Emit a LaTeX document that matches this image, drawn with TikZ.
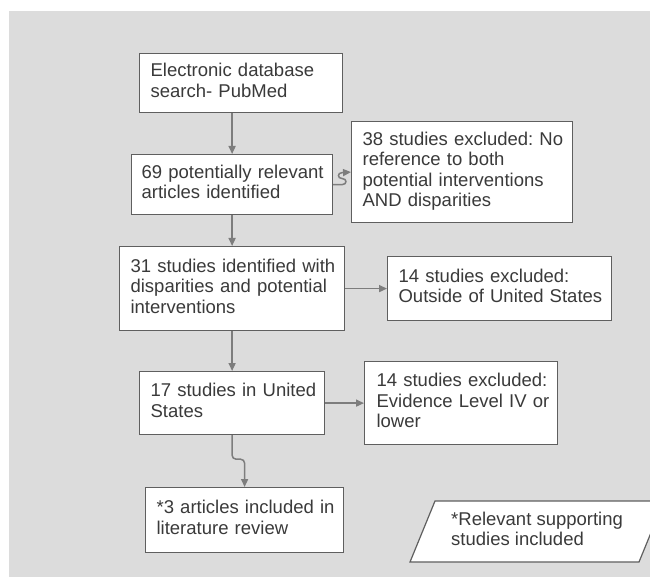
\documentclass[tikz,border=0pt]{standalone}
\usepackage{fontspec}
\setmainfont{Liberation Sans}
\usepackage{tikz}
\usetikzlibrary{arrows.meta}
\frenchspacing

\definecolor{bggray}{RGB}{220,220,220}
\definecolor{boxgray}{RGB}{95,95,95}
\definecolor{arrowgray}{RGB}{125,125,125}
\definecolor{txtgray}{RGB}{58,58,58}

% lines kept as set, never rewrapped
\newcommand{\boxtext}[1]{\begin{tabular}{@{}l@{}}#1\end{tabular}}

\tikzset{
  stage/.style={draw=boxgray, line width=1.2pt, fill=white, anchor=north west,
    align=left, inner xsep=11pt, inner ysep=0pt, text=txtgray,
    font=\fontsize{18.5}{20.5}\selectfont},
  flow/.style={draw=arrowgray, line width=1.5pt, -{Triangle[length=8pt,width=7pt]}},
}

\begin{document}
\begin{tikzpicture}[x=1pt,y=-1pt]
\useasboundingbox (0,0) rectangle (650,577);
\fill[bggray] (9,11) rectangle (650,577);

% Main column
\node[stage, text width=181pt, minimum height=59pt] (search) at (139,53)
  {\boxtext{Electronic database\\search- PubMed}};
\node[stage, text width=181pt, inner xsep=10pt, minimum height=60pt] (found) at (131,154)
  {\boxtext{69 potentially relevant\\articles identified}};
\node[stage, text width=203pt, minimum height=84pt] (identified) at (119,246)
  {\boxtext{31 studies identified with\\disparities and potential\\interventions}};
\node[stage, text width=163pt, minimum height=63pt] (usa) at (139,371)
  {\boxtext{17 studies in United\\States}};
\node[stage, text width=176pt, minimum height=65pt] (review) at (145,487)
  {\boxtext{*3 articles included in\\literature review}};

% Exclusions
\node[stage, text width=199pt, minimum height=101pt] (exclref) at (351,121)
  {\boxtext{38 studies excluded: No\\reference to both\\potential interventions\\AND disparities}};
\node[stage, text width=202pt, minimum height=64pt] (exclus) at (387,256)
  {\boxtext{14 studies excluded:\\Outside of United States}};
\node[stage, text width=169pt, inner xsep=12pt, minimum height=83pt] (excllevel) at (364,361)
  {\boxtext{14 studies excluded:\\Evidence Level IV or\\lower}};

% Supporting studies
\draw[boxgray, line width=1.2pt, fill=white] (410,562) -- (435,501) -- (664,501) -- (639,562) -- cycle;
\node[anchor=west, inner sep=0pt, text=txtgray,
  font=\fontsize{18.5}{20.5}\selectfont] (supp) at (451,531.5)
  {\boxtext{*Relevant supporting\\studies included}};

% Arrows
\draw[flow] (search.south -| found.north) -- (found.north);
\draw[flow] (found.east) -- ++(9,0) .. controls +(5,0) and +(5,0) .. ++(0,-6)
  .. controls +(-5,0) and +(-5,0) .. ++(0,-6) -- (exclref.west);
\draw[flow] (found.south) -- (identified.north);
\draw[flow] (identified.east) -- (exclus.west);
\draw[flow] (identified.south) -- (usa.north);
\draw[flow] (usa.east) -- (excllevel.west);
\draw[flow, rounded corners=4pt] (usa.south) -- ++(0,24) -| (review.north);

\end{tikzpicture}
\end{document}
